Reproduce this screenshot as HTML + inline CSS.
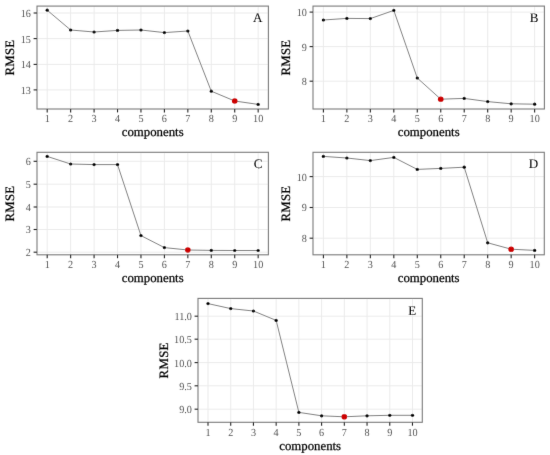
<!DOCTYPE html>
<html><head><meta charset="utf-8"><style>
html,body{margin:0;padding:0;background:#fff;}
body{width:550px;height:455px;overflow:hidden;}
svg{display:block;}
text{font-family:"Liberation Serif",serif;text-rendering:geometricPrecision;}
.gr{stroke:#ebebeb;stroke-width:1.0;}
.ln{fill:none;stroke:#828282;stroke-width:1.0;stroke-linejoin:round;}
.pt{fill:#000;}
.rd{fill:#cc0000;}
.bd{fill:none;stroke:#7a7a7a;stroke-width:1.1;}
.tk{stroke:#222222;stroke-width:1.1;}
.yl{font-size:10.2px;fill:#555555;text-anchor:end;}
.xl{font-size:10.2px;fill:#555555;text-anchor:middle;}
.tt{font-size:12.8px;fill:#000;text-anchor:middle;stroke:#000;stroke-width:0.25px;}
.tg{font-size:13.0px;fill:#000;text-anchor:end;stroke:#000;stroke-width:0.1px;}
</style></head><body>
<svg width="550" height="455" viewBox="0 0 550 455">
<defs><filter id="bl" x="0" y="0" width="550" height="455" filterUnits="userSpaceOnUse"><feConvolveMatrix order="3" kernelMatrix="0.00524 0.06192 0.00524 0.06192 0.73137 0.06192 0.00524 0.06192 0.00524" divisor="1" edgeMode="duplicate" preserveAlpha="false"/></filter></defs>
<rect width="550" height="455" fill="#fff"/>
<g filter="url(#bl)">
<line x1="47.2" y1="6.1" x2="47.2" y2="109" class="gr"/>
<line x1="70.64" y1="6.1" x2="70.64" y2="109" class="gr"/>
<line x1="94.08" y1="6.1" x2="94.08" y2="109" class="gr"/>
<line x1="117.52" y1="6.1" x2="117.52" y2="109" class="gr"/>
<line x1="140.96" y1="6.1" x2="140.96" y2="109" class="gr"/>
<line x1="164.4" y1="6.1" x2="164.4" y2="109" class="gr"/>
<line x1="187.84" y1="6.1" x2="187.84" y2="109" class="gr"/>
<line x1="211.28" y1="6.1" x2="211.28" y2="109" class="gr"/>
<line x1="234.72" y1="6.1" x2="234.72" y2="109" class="gr"/>
<line x1="258.16" y1="6.1" x2="258.16" y2="109" class="gr"/>
<line x1="37" y1="13" x2="268.4" y2="13" class="gr"/>
<line x1="37" y1="38.6" x2="268.4" y2="38.6" class="gr"/>
<line x1="37" y1="64.4" x2="268.4" y2="64.4" class="gr"/>
<line x1="37" y1="89.9" x2="268.4" y2="89.9" class="gr"/>
<polyline points="47.2,10.2 70.64,30 94.08,32 117.52,30.4 140.96,30 164.4,32.6 187.84,31 211.28,91.2 234.72,101 258.16,104.4" class="ln"/>
<circle cx="47.2" cy="10.2" r="1.6" class="pt"/>
<circle cx="70.64" cy="30" r="1.6" class="pt"/>
<circle cx="94.08" cy="32" r="1.6" class="pt"/>
<circle cx="117.52" cy="30.4" r="1.6" class="pt"/>
<circle cx="140.96" cy="30" r="1.6" class="pt"/>
<circle cx="164.4" cy="32.6" r="1.6" class="pt"/>
<circle cx="187.84" cy="31" r="1.6" class="pt"/>
<circle cx="211.28" cy="91.2" r="1.6" class="pt"/>
<circle cx="234.72" cy="101" r="2.8" class="rd"/>
<circle cx="258.16" cy="104.4" r="1.6" class="pt"/>
<rect x="37" y="6.1" width="231.4" height="102.9" class="bd"/>
<line x1="33.6" y1="13" x2="37" y2="13" class="tk"/>
<text transform="translate(30.9,16.95) scale(1,1.06)" class="yl">16</text>
<line x1="33.6" y1="38.6" x2="37" y2="38.6" class="tk"/>
<text transform="translate(30.9,42.55) scale(1,1.06)" class="yl">15</text>
<line x1="33.6" y1="64.4" x2="37" y2="64.4" class="tk"/>
<text transform="translate(30.9,68.35) scale(1,1.06)" class="yl">14</text>
<line x1="33.6" y1="89.9" x2="37" y2="89.9" class="tk"/>
<text transform="translate(30.9,93.85) scale(1,1.06)" class="yl">13</text>
<line x1="47.2" y1="109" x2="47.2" y2="112.4" class="tk"/>
<text transform="translate(47.2,122.05) scale(1,1.06)" class="xl">1</text>
<line x1="70.64" y1="109" x2="70.64" y2="112.4" class="tk"/>
<text transform="translate(70.64,122.05) scale(1,1.06)" class="xl">2</text>
<line x1="94.08" y1="109" x2="94.08" y2="112.4" class="tk"/>
<text transform="translate(94.08,122.05) scale(1,1.06)" class="xl">3</text>
<line x1="117.52" y1="109" x2="117.52" y2="112.4" class="tk"/>
<text transform="translate(117.52,122.05) scale(1,1.06)" class="xl">4</text>
<line x1="140.96" y1="109" x2="140.96" y2="112.4" class="tk"/>
<text transform="translate(140.96,122.05) scale(1,1.06)" class="xl">5</text>
<line x1="164.4" y1="109" x2="164.4" y2="112.4" class="tk"/>
<text transform="translate(164.4,122.05) scale(1,1.06)" class="xl">6</text>
<line x1="187.84" y1="109" x2="187.84" y2="112.4" class="tk"/>
<text transform="translate(187.84,122.05) scale(1,1.06)" class="xl">7</text>
<line x1="211.28" y1="109" x2="211.28" y2="112.4" class="tk"/>
<text transform="translate(211.28,122.05) scale(1,1.06)" class="xl">8</text>
<line x1="234.72" y1="109" x2="234.72" y2="112.4" class="tk"/>
<text transform="translate(234.72,122.05) scale(1,1.06)" class="xl">9</text>
<line x1="258.16" y1="109" x2="258.16" y2="112.4" class="tk"/>
<text transform="translate(258.16,122.05) scale(1,1.06)" class="xl">10</text>
<text x="152.7" y="136.1" class="tt">components</text>
<text transform="translate(14,57.55) rotate(-90)" x="0" y="0" class="tt" letter-spacing="0.3">RMSE</text>
<text x="262.3" y="22.2" class="tg">A</text>
<line x1="323.4" y1="6.1" x2="323.4" y2="109" class="gr"/>
<line x1="346.87" y1="6.1" x2="346.87" y2="109" class="gr"/>
<line x1="370.34" y1="6.1" x2="370.34" y2="109" class="gr"/>
<line x1="393.81" y1="6.1" x2="393.81" y2="109" class="gr"/>
<line x1="417.28" y1="6.1" x2="417.28" y2="109" class="gr"/>
<line x1="440.75" y1="6.1" x2="440.75" y2="109" class="gr"/>
<line x1="464.22" y1="6.1" x2="464.22" y2="109" class="gr"/>
<line x1="487.69" y1="6.1" x2="487.69" y2="109" class="gr"/>
<line x1="511.16" y1="6.1" x2="511.16" y2="109" class="gr"/>
<line x1="534.63" y1="6.1" x2="534.63" y2="109" class="gr"/>
<line x1="313" y1="12.1" x2="544.4" y2="12.1" class="gr"/>
<line x1="313" y1="46.6" x2="544.4" y2="46.6" class="gr"/>
<line x1="313" y1="81.2" x2="544.4" y2="81.2" class="gr"/>
<polyline points="323.4,20 346.87,18.4 370.34,18.6 393.81,10.4 417.28,78 440.75,99.2 464.22,98.4 487.69,101.6 511.16,103.8 534.63,104.2" class="ln"/>
<circle cx="323.4" cy="20" r="1.6" class="pt"/>
<circle cx="346.87" cy="18.4" r="1.6" class="pt"/>
<circle cx="370.34" cy="18.6" r="1.6" class="pt"/>
<circle cx="393.81" cy="10.4" r="1.6" class="pt"/>
<circle cx="417.28" cy="78" r="1.6" class="pt"/>
<circle cx="440.75" cy="99.2" r="2.8" class="rd"/>
<circle cx="464.22" cy="98.4" r="1.6" class="pt"/>
<circle cx="487.69" cy="101.6" r="1.6" class="pt"/>
<circle cx="511.16" cy="103.8" r="1.6" class="pt"/>
<circle cx="534.63" cy="104.2" r="1.6" class="pt"/>
<rect x="313" y="6.1" width="231.4" height="102.9" class="bd"/>
<line x1="309.6" y1="12.1" x2="313" y2="12.1" class="tk"/>
<text transform="translate(306.9,16.05) scale(1,1.06)" class="yl">10</text>
<line x1="309.6" y1="46.6" x2="313" y2="46.6" class="tk"/>
<text transform="translate(306.9,50.55) scale(1,1.06)" class="yl">9</text>
<line x1="309.6" y1="81.2" x2="313" y2="81.2" class="tk"/>
<text transform="translate(306.9,85.15) scale(1,1.06)" class="yl">8</text>
<line x1="323.4" y1="109" x2="323.4" y2="112.4" class="tk"/>
<text transform="translate(323.4,122.05) scale(1,1.06)" class="xl">1</text>
<line x1="346.87" y1="109" x2="346.87" y2="112.4" class="tk"/>
<text transform="translate(346.87,122.05) scale(1,1.06)" class="xl">2</text>
<line x1="370.34" y1="109" x2="370.34" y2="112.4" class="tk"/>
<text transform="translate(370.34,122.05) scale(1,1.06)" class="xl">3</text>
<line x1="393.81" y1="109" x2="393.81" y2="112.4" class="tk"/>
<text transform="translate(393.81,122.05) scale(1,1.06)" class="xl">4</text>
<line x1="417.28" y1="109" x2="417.28" y2="112.4" class="tk"/>
<text transform="translate(417.28,122.05) scale(1,1.06)" class="xl">5</text>
<line x1="440.75" y1="109" x2="440.75" y2="112.4" class="tk"/>
<text transform="translate(440.75,122.05) scale(1,1.06)" class="xl">6</text>
<line x1="464.22" y1="109" x2="464.22" y2="112.4" class="tk"/>
<text transform="translate(464.22,122.05) scale(1,1.06)" class="xl">7</text>
<line x1="487.69" y1="109" x2="487.69" y2="112.4" class="tk"/>
<text transform="translate(487.69,122.05) scale(1,1.06)" class="xl">8</text>
<line x1="511.16" y1="109" x2="511.16" y2="112.4" class="tk"/>
<text transform="translate(511.16,122.05) scale(1,1.06)" class="xl">9</text>
<line x1="534.63" y1="109" x2="534.63" y2="112.4" class="tk"/>
<text transform="translate(534.63,122.05) scale(1,1.06)" class="xl">10</text>
<text x="428.7" y="136.1" class="tt">components</text>
<text transform="translate(290.1,57.55) rotate(-90)" x="0" y="0" class="tt" letter-spacing="0.3">RMSE</text>
<text x="538.3" y="22.2" class="tg">B</text>
<line x1="47.2" y1="152.3" x2="47.2" y2="254.8" class="gr"/>
<line x1="70.64" y1="152.3" x2="70.64" y2="254.8" class="gr"/>
<line x1="94.08" y1="152.3" x2="94.08" y2="254.8" class="gr"/>
<line x1="117.52" y1="152.3" x2="117.52" y2="254.8" class="gr"/>
<line x1="140.96" y1="152.3" x2="140.96" y2="254.8" class="gr"/>
<line x1="164.4" y1="152.3" x2="164.4" y2="254.8" class="gr"/>
<line x1="187.84" y1="152.3" x2="187.84" y2="254.8" class="gr"/>
<line x1="211.28" y1="152.3" x2="211.28" y2="254.8" class="gr"/>
<line x1="234.72" y1="152.3" x2="234.72" y2="254.8" class="gr"/>
<line x1="258.16" y1="152.3" x2="258.16" y2="254.8" class="gr"/>
<line x1="37" y1="161.3" x2="268.4" y2="161.3" class="gr"/>
<line x1="37" y1="184.2" x2="268.4" y2="184.2" class="gr"/>
<line x1="37" y1="207" x2="268.4" y2="207" class="gr"/>
<line x1="37" y1="229.5" x2="268.4" y2="229.5" class="gr"/>
<line x1="37" y1="252.2" x2="268.4" y2="252.2" class="gr"/>
<polyline points="47.2,156.4 70.64,164 94.08,164.6 117.52,164.6 140.96,235.6 164.4,247.6 187.84,250 211.28,250.4 234.72,250.5 258.16,250.5" class="ln"/>
<circle cx="47.2" cy="156.4" r="1.6" class="pt"/>
<circle cx="70.64" cy="164" r="1.6" class="pt"/>
<circle cx="94.08" cy="164.6" r="1.6" class="pt"/>
<circle cx="117.52" cy="164.6" r="1.6" class="pt"/>
<circle cx="140.96" cy="235.6" r="1.6" class="pt"/>
<circle cx="164.4" cy="247.6" r="1.6" class="pt"/>
<circle cx="187.84" cy="250" r="2.8" class="rd"/>
<circle cx="211.28" cy="250.4" r="1.6" class="pt"/>
<circle cx="234.72" cy="250.5" r="1.6" class="pt"/>
<circle cx="258.16" cy="250.5" r="1.6" class="pt"/>
<rect x="37" y="152.3" width="231.4" height="102.5" class="bd"/>
<line x1="33.6" y1="161.3" x2="37" y2="161.3" class="tk"/>
<text transform="translate(30.9,165.25) scale(1,1.06)" class="yl">6</text>
<line x1="33.6" y1="184.2" x2="37" y2="184.2" class="tk"/>
<text transform="translate(30.9,188.15) scale(1,1.06)" class="yl">5</text>
<line x1="33.6" y1="207" x2="37" y2="207" class="tk"/>
<text transform="translate(30.9,210.95) scale(1,1.06)" class="yl">4</text>
<line x1="33.6" y1="229.5" x2="37" y2="229.5" class="tk"/>
<text transform="translate(30.9,233.45) scale(1,1.06)" class="yl">3</text>
<line x1="33.6" y1="252.2" x2="37" y2="252.2" class="tk"/>
<text transform="translate(30.9,256.15) scale(1,1.06)" class="yl">2</text>
<line x1="47.2" y1="254.8" x2="47.2" y2="258.2" class="tk"/>
<text transform="translate(47.2,267.85) scale(1,1.06)" class="xl">1</text>
<line x1="70.64" y1="254.8" x2="70.64" y2="258.2" class="tk"/>
<text transform="translate(70.64,267.85) scale(1,1.06)" class="xl">2</text>
<line x1="94.08" y1="254.8" x2="94.08" y2="258.2" class="tk"/>
<text transform="translate(94.08,267.85) scale(1,1.06)" class="xl">3</text>
<line x1="117.52" y1="254.8" x2="117.52" y2="258.2" class="tk"/>
<text transform="translate(117.52,267.85) scale(1,1.06)" class="xl">4</text>
<line x1="140.96" y1="254.8" x2="140.96" y2="258.2" class="tk"/>
<text transform="translate(140.96,267.85) scale(1,1.06)" class="xl">5</text>
<line x1="164.4" y1="254.8" x2="164.4" y2="258.2" class="tk"/>
<text transform="translate(164.4,267.85) scale(1,1.06)" class="xl">6</text>
<line x1="187.84" y1="254.8" x2="187.84" y2="258.2" class="tk"/>
<text transform="translate(187.84,267.85) scale(1,1.06)" class="xl">7</text>
<line x1="211.28" y1="254.8" x2="211.28" y2="258.2" class="tk"/>
<text transform="translate(211.28,267.85) scale(1,1.06)" class="xl">8</text>
<line x1="234.72" y1="254.8" x2="234.72" y2="258.2" class="tk"/>
<text transform="translate(234.72,267.85) scale(1,1.06)" class="xl">9</text>
<line x1="258.16" y1="254.8" x2="258.16" y2="258.2" class="tk"/>
<text transform="translate(258.16,267.85) scale(1,1.06)" class="xl">10</text>
<text x="152.7" y="281.9" class="tt">components</text>
<text transform="translate(14,203.55) rotate(-90)" x="0" y="0" class="tt" letter-spacing="0.3">RMSE</text>
<text x="262.3" y="168.4" class="tg">C</text>
<line x1="323.4" y1="152.3" x2="323.4" y2="254.8" class="gr"/>
<line x1="346.87" y1="152.3" x2="346.87" y2="254.8" class="gr"/>
<line x1="370.34" y1="152.3" x2="370.34" y2="254.8" class="gr"/>
<line x1="393.81" y1="152.3" x2="393.81" y2="254.8" class="gr"/>
<line x1="417.28" y1="152.3" x2="417.28" y2="254.8" class="gr"/>
<line x1="440.75" y1="152.3" x2="440.75" y2="254.8" class="gr"/>
<line x1="464.22" y1="152.3" x2="464.22" y2="254.8" class="gr"/>
<line x1="487.69" y1="152.3" x2="487.69" y2="254.8" class="gr"/>
<line x1="511.16" y1="152.3" x2="511.16" y2="254.8" class="gr"/>
<line x1="534.63" y1="152.3" x2="534.63" y2="254.8" class="gr"/>
<line x1="313" y1="176.6" x2="544.3" y2="176.6" class="gr"/>
<line x1="313" y1="207.5" x2="544.3" y2="207.5" class="gr"/>
<line x1="313" y1="238.2" x2="544.3" y2="238.2" class="gr"/>
<polyline points="323.4,156.4 346.87,158 370.34,160.6 393.81,157.4 417.28,169.4 440.75,168.4 464.22,167.2 487.69,242.8 511.16,249.2 534.63,250.4" class="ln"/>
<circle cx="323.4" cy="156.4" r="1.6" class="pt"/>
<circle cx="346.87" cy="158" r="1.6" class="pt"/>
<circle cx="370.34" cy="160.6" r="1.6" class="pt"/>
<circle cx="393.81" cy="157.4" r="1.6" class="pt"/>
<circle cx="417.28" cy="169.4" r="1.6" class="pt"/>
<circle cx="440.75" cy="168.4" r="1.6" class="pt"/>
<circle cx="464.22" cy="167.2" r="1.6" class="pt"/>
<circle cx="487.69" cy="242.8" r="1.6" class="pt"/>
<circle cx="511.16" cy="249.2" r="2.8" class="rd"/>
<circle cx="534.63" cy="250.4" r="1.6" class="pt"/>
<rect x="313" y="152.3" width="231.3" height="102.5" class="bd"/>
<line x1="309.6" y1="176.6" x2="313" y2="176.6" class="tk"/>
<text transform="translate(306.9,180.55) scale(1,1.06)" class="yl">10</text>
<line x1="309.6" y1="207.5" x2="313" y2="207.5" class="tk"/>
<text transform="translate(306.9,211.45) scale(1,1.06)" class="yl">9</text>
<line x1="309.6" y1="238.2" x2="313" y2="238.2" class="tk"/>
<text transform="translate(306.9,242.15) scale(1,1.06)" class="yl">8</text>
<line x1="323.4" y1="254.8" x2="323.4" y2="258.2" class="tk"/>
<text transform="translate(323.4,267.85) scale(1,1.06)" class="xl">1</text>
<line x1="346.87" y1="254.8" x2="346.87" y2="258.2" class="tk"/>
<text transform="translate(346.87,267.85) scale(1,1.06)" class="xl">2</text>
<line x1="370.34" y1="254.8" x2="370.34" y2="258.2" class="tk"/>
<text transform="translate(370.34,267.85) scale(1,1.06)" class="xl">3</text>
<line x1="393.81" y1="254.8" x2="393.81" y2="258.2" class="tk"/>
<text transform="translate(393.81,267.85) scale(1,1.06)" class="xl">4</text>
<line x1="417.28" y1="254.8" x2="417.28" y2="258.2" class="tk"/>
<text transform="translate(417.28,267.85) scale(1,1.06)" class="xl">5</text>
<line x1="440.75" y1="254.8" x2="440.75" y2="258.2" class="tk"/>
<text transform="translate(440.75,267.85) scale(1,1.06)" class="xl">6</text>
<line x1="464.22" y1="254.8" x2="464.22" y2="258.2" class="tk"/>
<text transform="translate(464.22,267.85) scale(1,1.06)" class="xl">7</text>
<line x1="487.69" y1="254.8" x2="487.69" y2="258.2" class="tk"/>
<text transform="translate(487.69,267.85) scale(1,1.06)" class="xl">8</text>
<line x1="511.16" y1="254.8" x2="511.16" y2="258.2" class="tk"/>
<text transform="translate(511.16,267.85) scale(1,1.06)" class="xl">9</text>
<line x1="534.63" y1="254.8" x2="534.63" y2="258.2" class="tk"/>
<text transform="translate(534.63,267.85) scale(1,1.06)" class="xl">10</text>
<text x="428.65" y="281.9" class="tt">components</text>
<text transform="translate(290.1,203.55) rotate(-90)" x="0" y="0" class="tt" letter-spacing="0.3">RMSE</text>
<text x="538.2" y="168.4" class="tg">D</text>
<line x1="208" y1="298.4" x2="208" y2="422.3" class="gr"/>
<line x1="230.72" y1="298.4" x2="230.72" y2="422.3" class="gr"/>
<line x1="253.44" y1="298.4" x2="253.44" y2="422.3" class="gr"/>
<line x1="276.16" y1="298.4" x2="276.16" y2="422.3" class="gr"/>
<line x1="298.88" y1="298.4" x2="298.88" y2="422.3" class="gr"/>
<line x1="321.6" y1="298.4" x2="321.6" y2="422.3" class="gr"/>
<line x1="344.32" y1="298.4" x2="344.32" y2="422.3" class="gr"/>
<line x1="367.04" y1="298.4" x2="367.04" y2="422.3" class="gr"/>
<line x1="389.76" y1="298.4" x2="389.76" y2="422.3" class="gr"/>
<line x1="412.48" y1="298.4" x2="412.48" y2="422.3" class="gr"/>
<line x1="198" y1="316.2" x2="422.3" y2="316.2" class="gr"/>
<line x1="198" y1="339.2" x2="422.3" y2="339.2" class="gr"/>
<line x1="198" y1="362.6" x2="422.3" y2="362.6" class="gr"/>
<line x1="198" y1="385.8" x2="422.3" y2="385.8" class="gr"/>
<line x1="198" y1="409.2" x2="422.3" y2="409.2" class="gr"/>
<polyline points="208,303.6 230.72,308.6 253.44,311 276.16,320.4 298.88,412.4 321.6,415.8 344.32,416.8 367.04,415.8 389.76,415.3 412.48,415.3" class="ln"/>
<circle cx="208" cy="303.6" r="1.6" class="pt"/>
<circle cx="230.72" cy="308.6" r="1.6" class="pt"/>
<circle cx="253.44" cy="311" r="1.6" class="pt"/>
<circle cx="276.16" cy="320.4" r="1.6" class="pt"/>
<circle cx="298.88" cy="412.4" r="1.6" class="pt"/>
<circle cx="321.6" cy="415.8" r="1.6" class="pt"/>
<circle cx="344.32" cy="416.8" r="2.8" class="rd"/>
<circle cx="367.04" cy="415.8" r="1.6" class="pt"/>
<circle cx="389.76" cy="415.3" r="1.6" class="pt"/>
<circle cx="412.48" cy="415.3" r="1.6" class="pt"/>
<rect x="198" y="298.4" width="224.3" height="123.9" class="bd"/>
<line x1="194.6" y1="316.2" x2="198" y2="316.2" class="tk"/>
<text transform="translate(191.9,320.15) scale(1,1.06)" class="yl">11.0</text>
<line x1="194.6" y1="339.2" x2="198" y2="339.2" class="tk"/>
<text transform="translate(191.9,343.15) scale(1,1.06)" class="yl">10.5</text>
<line x1="194.6" y1="362.6" x2="198" y2="362.6" class="tk"/>
<text transform="translate(191.9,366.55) scale(1,1.06)" class="yl">10.0</text>
<line x1="194.6" y1="385.8" x2="198" y2="385.8" class="tk"/>
<text transform="translate(191.9,389.75) scale(1,1.06)" class="yl">9.5</text>
<line x1="194.6" y1="409.2" x2="198" y2="409.2" class="tk"/>
<text transform="translate(191.9,413.15) scale(1,1.06)" class="yl">9.0</text>
<line x1="208" y1="422.3" x2="208" y2="425.7" class="tk"/>
<text transform="translate(208,435.75) scale(1,1.06)" class="xl">1</text>
<line x1="230.72" y1="422.3" x2="230.72" y2="425.7" class="tk"/>
<text transform="translate(230.72,435.75) scale(1,1.06)" class="xl">2</text>
<line x1="253.44" y1="422.3" x2="253.44" y2="425.7" class="tk"/>
<text transform="translate(253.44,435.75) scale(1,1.06)" class="xl">3</text>
<line x1="276.16" y1="422.3" x2="276.16" y2="425.7" class="tk"/>
<text transform="translate(276.16,435.75) scale(1,1.06)" class="xl">4</text>
<line x1="298.88" y1="422.3" x2="298.88" y2="425.7" class="tk"/>
<text transform="translate(298.88,435.75) scale(1,1.06)" class="xl">5</text>
<line x1="321.6" y1="422.3" x2="321.6" y2="425.7" class="tk"/>
<text transform="translate(321.6,435.75) scale(1,1.06)" class="xl">6</text>
<line x1="344.32" y1="422.3" x2="344.32" y2="425.7" class="tk"/>
<text transform="translate(344.32,435.75) scale(1,1.06)" class="xl">7</text>
<line x1="367.04" y1="422.3" x2="367.04" y2="425.7" class="tk"/>
<text transform="translate(367.04,435.75) scale(1,1.06)" class="xl">8</text>
<line x1="389.76" y1="422.3" x2="389.76" y2="425.7" class="tk"/>
<text transform="translate(389.76,435.75) scale(1,1.06)" class="xl">9</text>
<line x1="412.48" y1="422.3" x2="412.48" y2="425.7" class="tk"/>
<text transform="translate(412.48,435.75) scale(1,1.06)" class="xl">10</text>
<text x="310.15" y="449.8" class="tt">components</text>
<text transform="translate(167.6,360.35) rotate(-90)" x="0" y="0" class="tt" letter-spacing="0.3">RMSE</text>
<text x="416.2" y="314.5" class="tg">E</text>
</g>
</svg>
</body></html>
